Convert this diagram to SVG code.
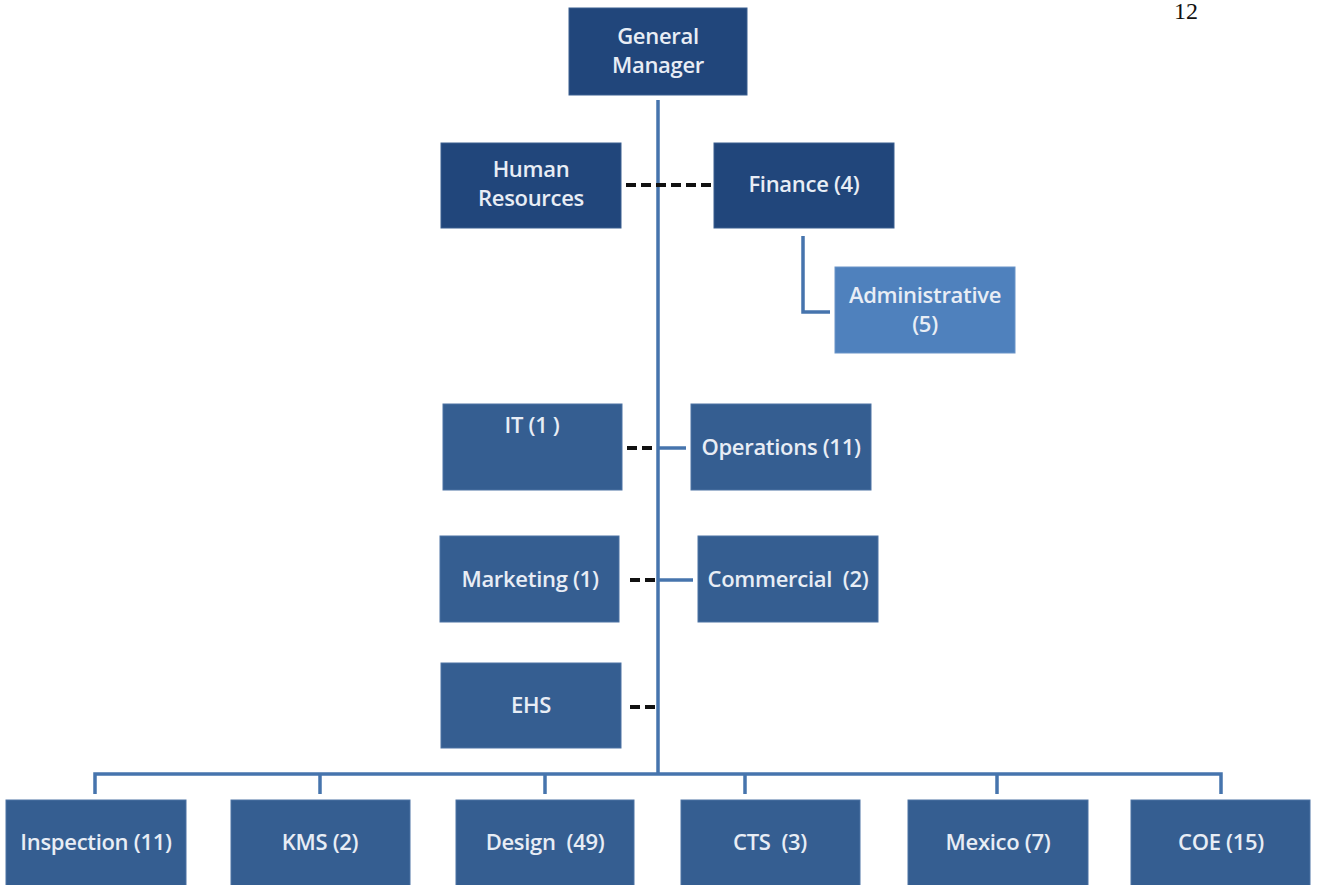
<svg xmlns="http://www.w3.org/2000/svg" width="1317" height="885" viewBox="0 0 1317 885">
<style>
.dk{fill:#21467b;stroke:#3a5f90;stroke-width:1}
.md{fill:#355e91;stroke:#4d73a3;stroke-width:1}
.lt{fill:#4f81bd;stroke:#6a94c8;stroke-width:1}
.t{font-family:"Open Sans","Liberation Sans",sans-serif;font-size:22px;font-weight:600;fill:#e8edf5;text-anchor:middle;letter-spacing:-0.3px}
.ln{stroke:#4674ad;stroke-width:3.5;fill:none}
.ds{stroke:#111;stroke-width:4;stroke-dasharray:10,5;fill:none}
</style>
<rect width="1317" height="885" fill="#fff"/>
<g id="connectors">
<line class="ln" x1="658" y1="100" x2="658" y2="775"/>
<polyline class="ln" points="95,794 95,774 1221,774 1221,794"/>
<line class="ln" x1="320" y1="774" x2="320" y2="794"/>
<line class="ln" x1="545" y1="774" x2="545" y2="794"/>
<line class="ln" x1="745" y1="774" x2="745" y2="794"/>
<line class="ln" x1="997" y1="774" x2="997" y2="794"/>
<polyline class="ln" points="803,236 803,312 830,312"/>
<line class="ds" x1="626" y1="185" x2="712" y2="185"/>
<line class="ds" x1="627" y1="448" x2="656" y2="448"/>
<line class="ln" x1="658" y1="448" x2="686" y2="448"/>
<line class="ds" x1="630" y1="580" x2="656" y2="580"/>
<line class="ln" x1="658" y1="580" x2="693" y2="580"/>
<line class="ds" x1="630" y1="707" x2="656" y2="707"/>
</g>
<g id="gm"><rect class="dk" x="569" y="8" width="178" height="87"/><text class="t" x="658" y="44">General</text><text class="t" x="658" y="73">Manager</text></g>
<g id="hr"><rect class="dk" x="441" y="143" width="180" height="85"/><text class="t" x="531" y="177">Human</text><text class="t" x="531" y="206">Resources</text></g>
<g id="finance"><rect class="dk" x="714" y="143" width="180" height="85"/><text class="t" x="804" y="192">Finance (4)</text></g>
<g id="admin"><rect class="lt" x="835" y="267" width="180" height="86"/><text class="t" x="925" y="303">Administrative</text><text class="t" x="925" y="332">(5)</text></g>
<g id="it"><rect class="md" x="443" y="404" width="179" height="86"/><text class="t" x="532" y="433">IT (1 )</text></g>
<g id="operations"><rect class="md" x="691" y="404" width="180" height="86"/><text class="t" x="781" y="455">Operations (11)</text></g>
<g id="marketing"><rect class="md" x="440" y="536" width="179" height="86"/><text class="t" x="530" y="587">Marketing (1)</text></g>
<g id="commercial"><rect class="md" x="698" y="536" width="180" height="86"/><text class="t" x="788" y="587" xml:space="preserve">Commercial  (2)</text></g>
<g id="ehs"><rect class="md" x="441" y="663" width="180" height="85"/><text class="t" x="531" y="713">EHS</text></g>
<g id="inspection"><rect class="md" x="6" y="800" width="180" height="95"/><text class="t" x="96" y="850">Inspection (11)</text></g>
<g id="kms"><rect class="md" x="231" y="800" width="179" height="95"/><text class="t" x="320" y="850">KMS (2)</text></g>
<g id="design"><rect class="md" x="456" y="800" width="178" height="95"/><text class="t" x="545" y="850" xml:space="preserve">Design  (49)</text></g>
<g id="cts"><rect class="md" x="681" y="800" width="179" height="95"/><text class="t" x="770" y="850" xml:space="preserve">CTS  (3)</text></g>
<g id="mexico"><rect class="md" x="908" y="800" width="180" height="95"/><text class="t" x="998" y="850">Mexico (7)</text></g>
<g id="coe"><rect class="md" x="1131" y="800" width="179" height="95"/><text class="t" x="1221" y="850">COE (15)</text></g>
<text x="1186" y="19" font-family="Liberation Serif,serif" font-size="24" fill="#111" text-anchor="middle">12</text>
</svg>
